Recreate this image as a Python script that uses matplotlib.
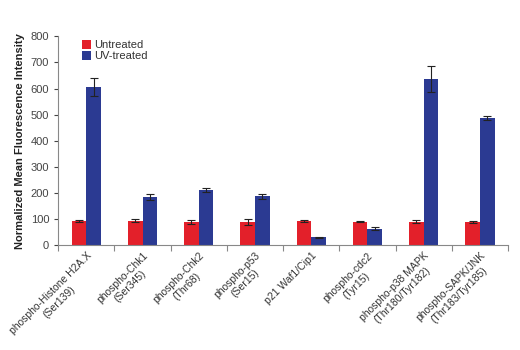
import matplotlib
matplotlib.use("Agg")
import matplotlib.pyplot as plt
import numpy as np

categories = ["phospho-Histone H2A.X\n(Ser139)", "phospho-Chk1\n(Ser345)", "phospho-Chk2\n(Thr68)",
              "phospho-p53\n(Ser15)", "p21 Waf1/Cip1", "phospho-cdc2\n(Tyr15)",
              "phospho-p38 MAPK\n(Thr180/Tyr182)", "phospho-SAPK/JNK\n(Thr183/Tyr185)"]
untreated = [93, 93, 88, 87, 93, 90, 89, 88]
untreated_err = [3, 5, 6, 12, 3, 3, 6, 3]
uv_treated = [607, 183, 210, 187, 29, 63, 637, 487]
uv_err = [35, 12, 7, 10, 2, 5, 50, 8]

plt.rcParams['font.family'] = ['Liberation Sans', 'DejaVu Sans']
fig = plt.figure(figsize=(5.2, 3.5), dpi=100)
ax = fig.add_axes([0.112, 0.30, 0.865, 0.596])

x = np.arange(len(categories))
w = 0.26
red = "#e3202a"
blue = "#2b3a92"
ax.bar(x - w/2, untreated, w, color=red, label="Untreated",
       yerr=untreated_err, error_kw=dict(ecolor="#222222", elinewidth=0.8, capsize=3, capthick=0.8))
ax.bar(x + w/2, uv_treated, w, color=blue, label="UV-treated",
       yerr=uv_err, error_kw=dict(ecolor="#222222", elinewidth=0.8, capsize=3, capthick=0.8))

ax.set_xlim(-0.5, len(categories) - 0.5)
ax.set_ylim(0, 800)
ax.set_yticks(range(0, 801, 100))
ax.tick_params(axis='y', labelsize=8, colors="#444444", length=3, width=0.8)
ax.set_xticks(x)
ax.set_xticklabels(categories, rotation=45, ha='right', rotation_mode='anchor', fontsize=7.5, color="#333333",
                   multialignment='center')
ax.tick_params(axis='x', length=0, pad=4)
ax.set_xticks(np.arange(-0.5, len(categories), 1.0), minor=True)
ax.tick_params(axis='x', which='minor', length=4, width=0.8, color="#888888")

for s in ['top', 'right']:
    ax.spines[s].set_visible(False)
for s in ['left', 'bottom']:
    ax.spines[s].set_color("#888888")
    ax.spines[s].set_linewidth(0.8)

ax.set_ylabel("Normalized Mean Fluorescence Intensity", fontsize=8, fontweight='bold', color="#222222")
leg = ax.legend(loc='upper left', bbox_to_anchor=(0.03, 1.03), frameon=False, fontsize=8,
                handlelength=0.8, handleheight=0.8, handletextpad=0.3, labelspacing=0.1)
for t in leg.get_texts():
    t.set_color("#333333")

fig.savefig("out.png", dpi=100)
